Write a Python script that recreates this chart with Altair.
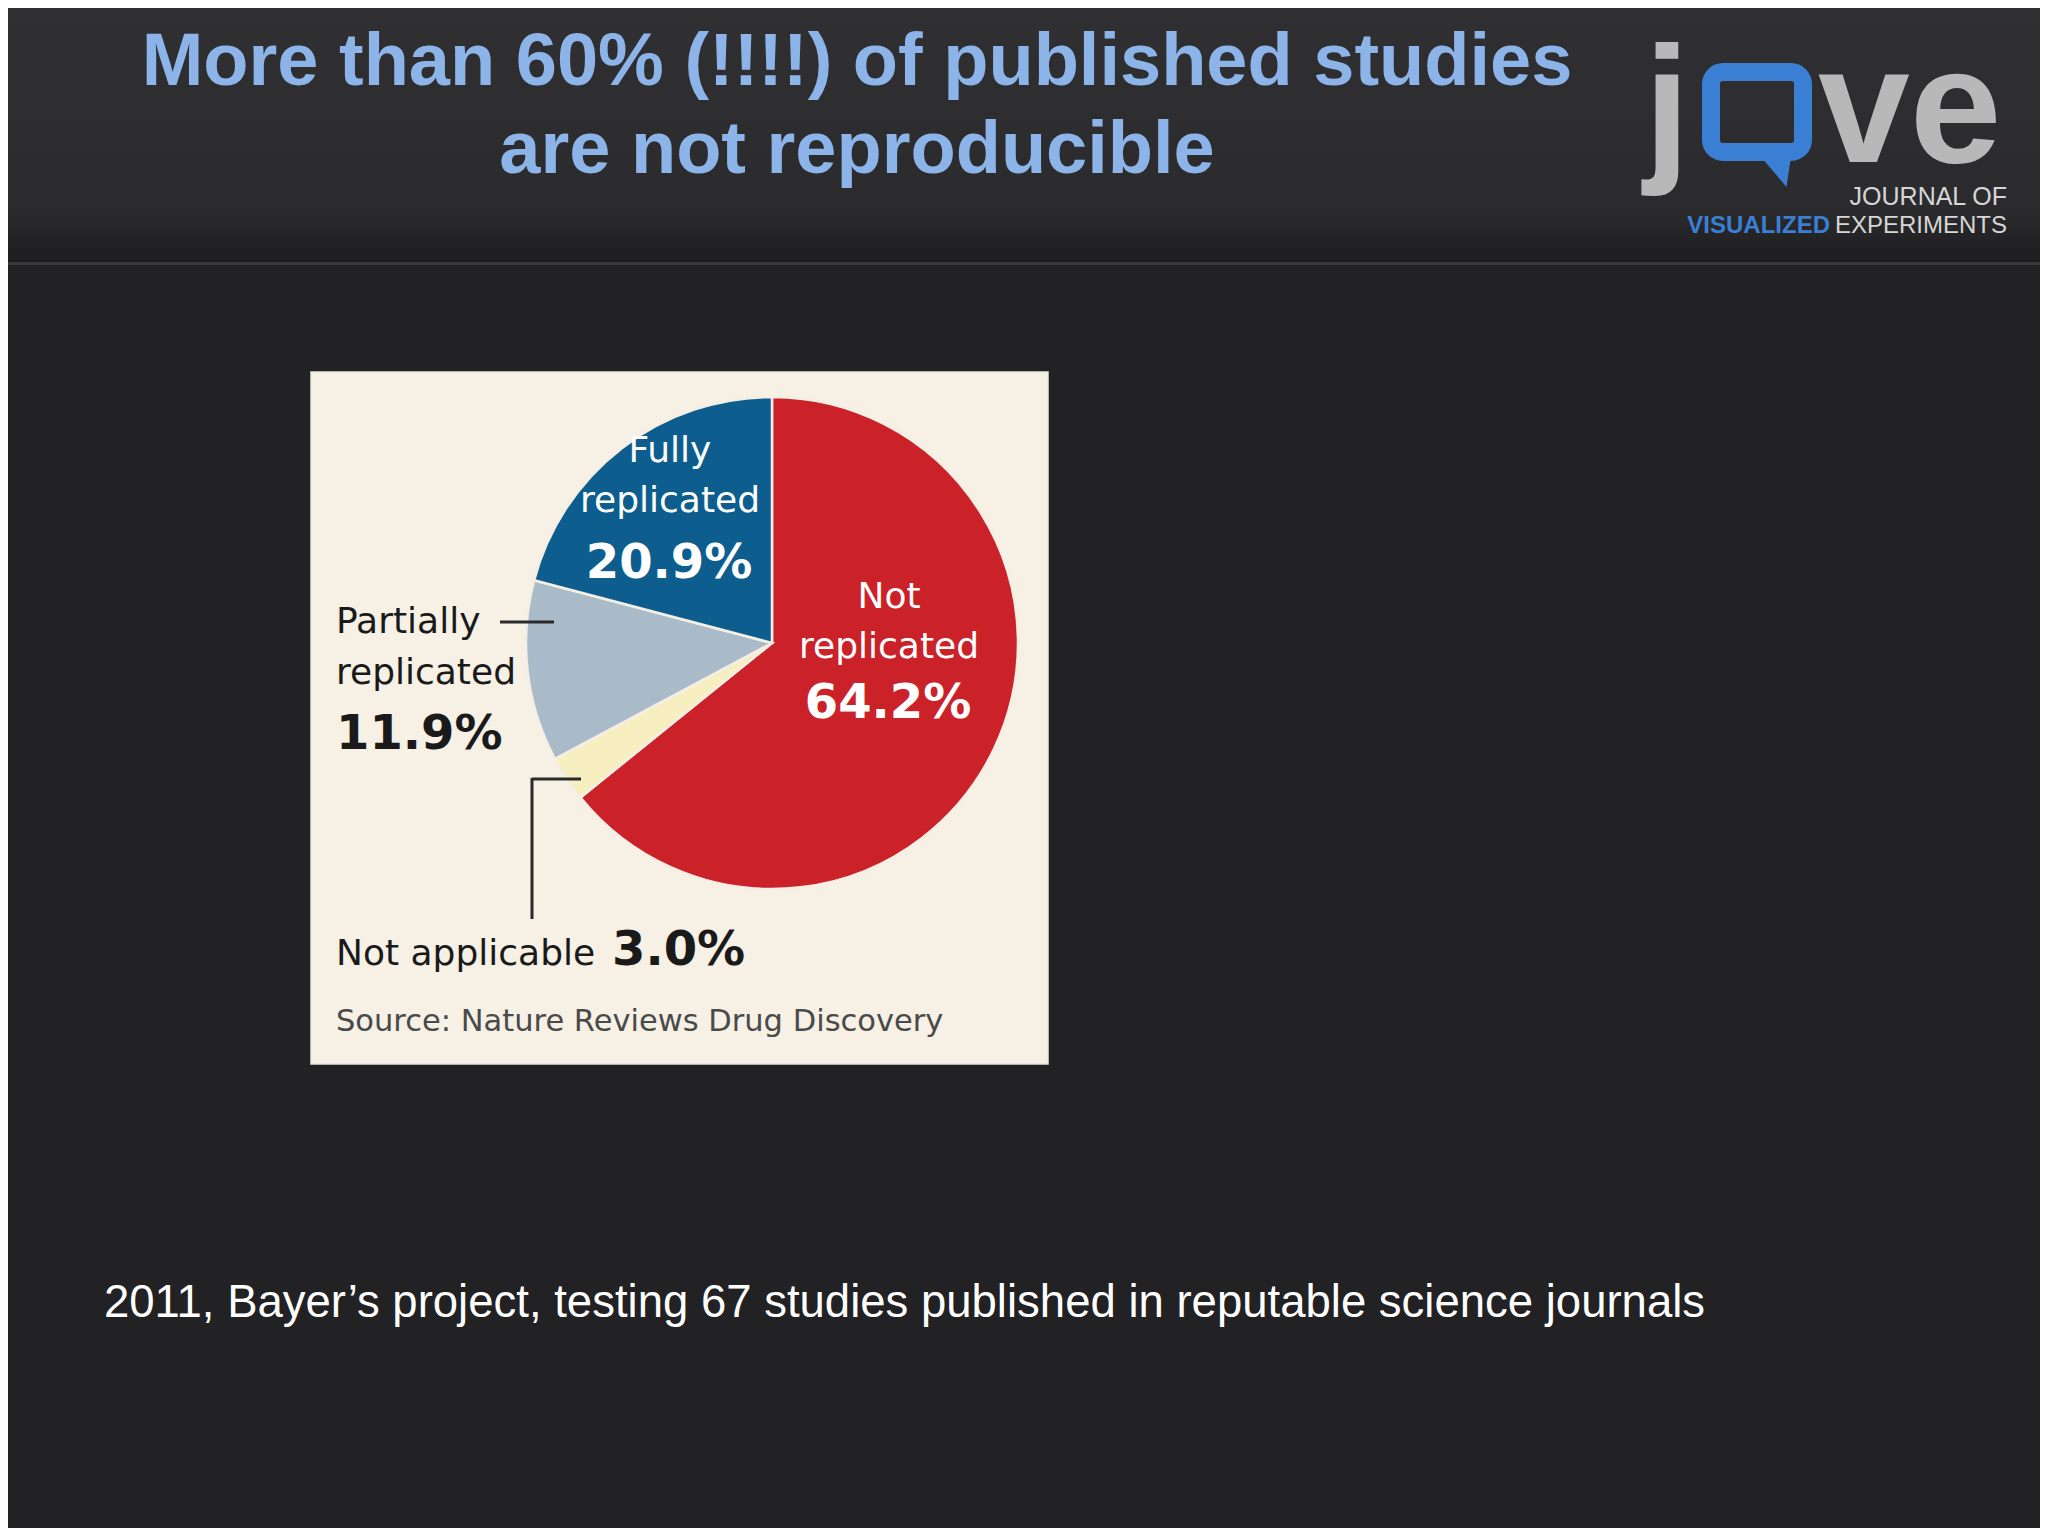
import altair as alt
import pandas as pd

# ---------------- data ----------------
categories = ["Not replicated", "Not applicable", "Partially replicated", "Fully replicated"]
percent = [64.2, 3.0, 11.9, 20.9]
slice_colors = ["#cb2229", "#f7efc0", "#a9bbc9", "#0d5e8e"]

title_lines = ["More than 60% (!!!!) of published studies", "are not reproducible"]
source_text = "Source: Nature Reviews Drug Discovery"
footer_text = "2011, Bayer\u2019s project, testing 67 studies published in reputable science journals"

# ---------------- layout (reference pixel coordinates) ----------------
OFF = 8
W, H = 2048 - 2 * OFF, 1536 - 2 * OFF


def px(v):
    return v - OFF


PIE_CX, PIE_CY, PIE_R = 772, 643, 246

# label anchor positions keyed by category
label_layout = {
    "Fully replicated": dict(x=670, lines_y=[462, 512], num_x=669, num_y=578, align="center", color="#ffffff"),
    "Not replicated": dict(x=889, lines_y=[608, 658], num_x=888, num_y=718, align="center", color="#ffffff"),
    "Partially replicated": dict(x=336, lines_y=[633, 684], num_x=336, num_y=749, align="left", color="#1a1a1a"),
    "Not applicable": dict(x=336, lines_y=[965], num_x=612, num_y=965, align="left", color="#1a1a1a"),
}

LABEL_FONT = "DejaVu Sans"
TITLE_FONT = "Liberation Sans, Arial, sans-serif"

# ---------------- build tables ----------------
pie_df = pd.DataFrame({
    "category": categories,
    "percent": percent,
    "rank": list(range(len(categories))),
})

rows_line = []
rows_num = []
for cat, val in zip(categories, percent):
    lay = label_layout[cat]
    words = cat.split(" ", 1)
    lines = words if len(lay["lines_y"]) == 2 else [cat]
    for txt, yy in zip(lines, lay["lines_y"]):
        rows_line.append(dict(text=txt, x=px(lay["x"]), y=px(yy), align=lay["align"], color=lay["color"]))
    rows_num.append(dict(text=f"{val:.1f}%", x=px(lay["num_x"]), y=px(lay["num_y"]),
                         align=lay["align"], color=lay["color"]))
lines_df = pd.DataFrame(rows_line)
nums_df = pd.DataFrame(rows_num)

one = pd.DataFrame({"k": [0]})


def rect(x0, y0, x1, y1, **kw):
    return alt.Chart(one).mark_rect(**kw).encode(
        x=alt.value(px(x0)), x2=alt.value(px(x1)), y=alt.value(px(y0)), y2=alt.value(px(y1)))


def rule(x0, y0, x1, y1, **kw):
    return alt.Chart(one).mark_rule(**kw).encode(
        x=alt.value(px(x0)), x2=alt.value(px(x1)), y=alt.value(px(y0)), y2=alt.value(px(y1)))


def text(t, x, y, **kw):
    return alt.Chart(one).mark_text(baseline="alphabetic", **kw).encode(
        x=alt.value(px(x)), y=alt.value(px(y)), text=alt.value(t))


layers = []

# header band
header_grad = alt.Gradient(
    gradient="linear", x1=0, x2=0, y1=0, y2=1,
    stops=[alt.GradientStop(color="#303032", offset=0),
           alt.GradientStop(color="#2b2b2d", offset=0.8),
           alt.GradientStop(color="#1d1d1f", offset=1)])
layers.append(rect(0, 0, 2048, 262, color=header_grad))
layers.append(rect(0, 262, 2048, 265, color="#38383a"))

# title
for t, yy in zip(title_lines, [85, 173]):
    layers.append(text(t, 857, yy, align="center", font=TITLE_FONT, fontWeight="bold",
                       fontSize=74, color="#8cb4e8"))

# logo
LOGO_GRAY = "#b8b8b8"
layers.append(text("j", 1644, 162, align="left", font=TITLE_FONT, fontWeight="bold",
                   fontSize=165, color=LOGO_GRAY))
layers.append(text("ve", 1818, 162, align="left", font=TITLE_FONT, fontWeight="bold",
                   fontSize=165, color=LOGO_GRAY))
layers.append(rect(1711, 72, 1803, 152, fillOpacity=0, stroke="#3a7fd3", strokeWidth=18, cornerRadius=12))
layers.append(alt.Chart(one).mark_point(
    shape="M -1 -1 L 1 -1 L 0.7 1 Z", filled=True, size=900, color="#3a7fd3", opacity=1
).encode(x=alt.value(px(1776)), y=alt.value(px(172))))
layers.append(text("JOURNAL OF", 2007, 205, align="right", font=TITLE_FONT, fontSize=25, color="#d6d6d6"))
layers.append(text("EXPERIMENTS", 2007, 233, align="right", font=TITLE_FONT, fontSize=24, color="#d6d6d6"))
layers.append(text("VISUALIZED", 1830, 233, align="right", font=TITLE_FONT, fontWeight="bold",
                   fontSize=24, color="#3a7fd3"))

# panel
layers.append(rect(311, 372, 1048, 1064, color="#f6f0e5", stroke="#ebe6dc", strokeWidth=1.5))

# pie
layers.append(alt.Chart(pie_df).mark_arc(radius=PIE_R, stroke="#f4eee4", strokeWidth=2.5).encode(
    theta=alt.Theta("percent:Q", stack=True),
    color=alt.Color("category:N", scale=alt.Scale(domain=categories, range=slice_colors), legend=None),
    order=alt.Order("rank:Q"),
    x=alt.value(px(PIE_CX)),
    y=alt.value(px(PIE_CY)),
))

# slice labels
for al in ["center", "left"]:
    sub = lines_df[lines_df["align"] == al]
    layers.append(alt.Chart(sub).mark_text(align=al, baseline="alphabetic", font=LABEL_FONT, fontSize=36).encode(
        x=alt.X("x:Q", scale=None, axis=None), y=alt.Y("y:Q", scale=None, axis=None),
        text="text:N", color=alt.Color("color:N", scale=None)))
    subn = nums_df[nums_df["align"] == al]
    layers.append(alt.Chart(subn).mark_text(align=al, baseline="alphabetic", font=LABEL_FONT,
                                            fontWeight="bold", fontSize=48).encode(
        x=alt.X("x:Q", scale=None, axis=None), y=alt.Y("y:Q", scale=None, axis=None),
        text="text:N", color=alt.Color("color:N", scale=None)))

# leader lines
layers.append(rule(500, 622, 554, 622, color="#2a2a2a", strokeWidth=3))
layers.append(rule(532, 779, 581, 779, color="#2a2a2a", strokeWidth=3))
layers.append(rule(532, 778, 532, 919, color="#2a2a2a", strokeWidth=3))

# source
layers.append(text(source_text, 336, 1031, align="left", font=LABEL_FONT, fontSize=30.5, color="#4a4a4a"))

# footer
layers.append(text(footer_text, 104, 1317, align="left", font=TITLE_FONT, fontSize=45.5, color="#ffffff"))

chart = alt.layer(*layers).properties(
    width=W, height=H, padding=0, autosize=alt.AutoSizeParams(type="none"),
    background="#222124",
).configure_view(strokeWidth=0)

chart.save("out.html", embed_options={"renderer": "svg", "actions": False})
